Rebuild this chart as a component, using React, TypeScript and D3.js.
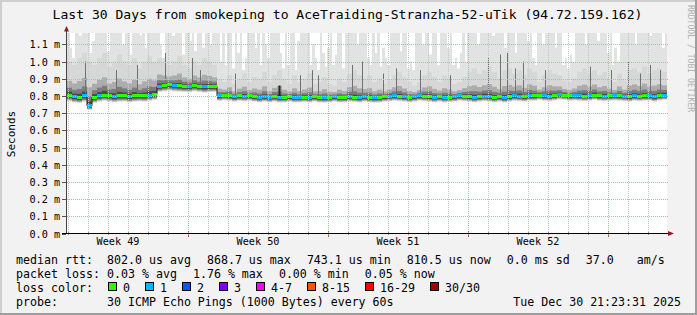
import React from "react";
import * as d3 from "d3";

// ---------- data ----------
const TITLE = "Last 30 Days from smokeping to AceTraiding-Stranzha-52-uTik (94.72.159.162)";
const START = Date.UTC(2025, 10, 30, 22, 48);
const END = Date.UTC(2025, 11, 30, 22, 48);
const BIN_HOURS = 6;
const PEAK_HOURS = 3;
const Y_TICKS = [0, 0.1, 0.2, 0.3, 0.4, 0.5, 0.6, 0.7, 0.8, 0.9, 1.0, 1.1];

// median rtt per 6h bin (ms)
const MEDIAN = [
  0.805, 0.795, 0.790, 0.800, 0.742, 0.792, 0.800, 0.805, 0.800, 0.795,
  0.800, 0.800, 0.795, 0.800, 0.800, 0.800, 0.805, 0.810, 0.855, 0.860,
  0.865, 0.860, 0.858, 0.855, 0.855, 0.860, 0.855, 0.852, 0.855, 0.855,
  0.800, 0.805, 0.800, 0.795, 0.800, 0.798, 0.800, 0.795, 0.790, 0.795,
  0.790, 0.795, 0.790, 0.790, 0.795, 0.790, 0.790, 0.792, 0.790, 0.795,
  0.790, 0.788, 0.790, 0.795, 0.790, 0.790, 0.795, 0.792, 0.790, 0.795,
  0.790, 0.788, 0.790, 0.795, 0.798, 0.800, 0.798, 0.795, 0.790, 0.795,
  0.800, 0.798, 0.795, 0.790, 0.795, 0.790, 0.792, 0.795, 0.800, 0.798,
  0.795, 0.790, 0.795, 0.798, 0.795, 0.790, 0.795, 0.790, 0.795, 0.800,
  0.798, 0.795, 0.800, 0.800, 0.805, 0.800, 0.798, 0.802, 0.808, 0.805,
  0.800, 0.802, 0.800, 0.798, 0.800, 0.805, 0.800, 0.798, 0.800, 0.802,
  0.800, 0.798, 0.795, 0.800, 0.798, 0.800, 0.800, 0.795, 0.802, 0.805,
];
// fastest ping per bin (ms)
const LOW = [
  0.772, 0.765, 0.762, 0.770, 0.722, 0.762, 0.770, 0.775, 0.770, 0.766,
  0.770, 0.771, 0.766, 0.770, 0.772, 0.770, 0.775, 0.780, 0.826, 0.830,
  0.834, 0.830, 0.828, 0.826, 0.825, 0.830, 0.826, 0.822, 0.825, 0.826,
  0.774, 0.778, 0.775, 0.770, 0.774, 0.772, 0.775, 0.770, 0.766, 0.770,
  0.766, 0.770, 0.765, 0.766, 0.770, 0.765, 0.766, 0.768, 0.765, 0.770,
  0.765, 0.764, 0.766, 0.770, 0.765, 0.766, 0.770, 0.768, 0.765, 0.770,
  0.766, 0.764, 0.765, 0.770, 0.772, 0.775, 0.773, 0.770, 0.766, 0.770,
  0.775, 0.773, 0.770, 0.766, 0.770, 0.765, 0.768, 0.770, 0.775, 0.773,
  0.770, 0.766, 0.770, 0.773, 0.770, 0.766, 0.770, 0.765, 0.770, 0.775,
  0.773, 0.770, 0.775, 0.775, 0.780, 0.775, 0.773, 0.777, 0.782, 0.780,
  0.775, 0.777, 0.775, 0.773, 0.775, 0.780, 0.775, 0.773, 0.775, 0.777,
  0.775, 0.773, 0.770, 0.775, 0.773, 0.775, 0.775, 0.770, 0.777, 0.780,
];
// upper edge of the dense smoke per bin (ms)
const UPPER = [
  1.00, 0.98, 1.02, 1.05, 1.00, 0.98, 1.02, 1.05, 0.97, 1.00,
  1.04, 1.00, 0.98, 1.02, 0.96, 1.00, 1.03, 1.00, 1.02, 1.00,
  0.98, 1.00, 1.03, 0.98, 0.96, 1.00, 0.98, 1.02, 1.00, 0.98,
  0.90, 0.88, 0.92, 0.87, 0.90, 0.93, 0.88, 0.91, 0.90, 0.94,
  0.88, 0.92, 0.95, 0.90, 0.87, 0.92, 0.88, 0.90, 0.93, 0.87,
  0.88, 0.91, 0.87, 0.86, 0.90, 0.88, 0.93, 0.95, 0.92, 0.90,
  0.92, 0.88, 0.90, 0.87, 0.89, 0.92, 0.94, 0.91, 0.88, 0.86,
  0.88, 0.92, 0.94, 0.91, 0.88, 0.92, 0.90, 0.87, 0.88, 0.91,
  0.94, 0.96, 0.93, 0.95, 0.97, 0.94, 0.90, 0.95, 0.96, 0.93,
  0.95, 0.92, 0.96, 0.94, 0.88, 0.92, 0.95, 0.93, 0.92, 0.89,
  0.88, 0.90, 0.94, 0.96, 0.93, 0.95, 0.92, 0.94, 0.90, 0.88,
  0.93, 0.89, 0.95, 0.96, 0.94, 0.97, 0.93, 0.95, 0.96, 0.94,
];
// slowest ping per 3h slot (ms), values above the canvas are clipped
const PEAK = [
  1.25, 1.08, 1.02, 1.25, 1.25, 1.15, 1.25, 1.25,
  1.25, 1.05, 1.12, 1.25, 1.25, 1.25, 1.20, 1.25,
  1.06, 1.25, 1.25, 1.18, 1.25, 1.25, 1.10, 1.25,
  1.25, 1.04, 1.25, 1.25, 1.25, 1.15, 1.25, 1.08,
  1.25, 1.25, 1.25, 1.25, 1.25, 1.10, 1.02, 1.25,
  1.25, 1.25, 1.15, 1.25, 1.25, 1.25, 1.04, 1.25,
  1.25, 1.12, 1.25, 1.06, 1.20, 1.25, 1.08, 1.25,
  1.25, 1.10, 1.25, 1.25, 1.25, 1.00, 1.25, 0.98,
  1.25, 1.25, 0.96, 1.25, 1.05, 1.25, 0.95, 1.02,
  1.25, 1.25, 1.25, 1.08, 1.25, 0.98, 1.25, 1.10,
  1.02, 1.25, 1.25, 1.25, 1.25, 1.05, 0.96, 1.25,
  0.98, 1.25, 1.25, 0.95, 1.12, 1.25, 1.25, 1.25,
  1.25, 0.98, 1.10, 1.02, 0.95, 1.25, 1.05, 0.97,
  1.08, 1.25, 0.98, 1.04, 1.25, 1.25, 0.96, 1.25,
  1.25, 1.25, 1.25, 1.25, 1.10, 1.25, 1.25, 1.25,
  1.02, 0.98, 1.25, 1.05, 1.25, 0.97, 1.08, 1.02,
  0.98, 1.25, 1.25, 1.25, 1.25, 1.06, 1.25, 1.25,
  0.96, 1.00, 0.95, 1.25, 1.25, 1.25, 1.10, 1.25,
  1.25, 1.04, 1.25, 1.25, 0.98, 1.25, 1.25, 1.25,
  1.08, 1.25, 0.98, 1.02, 0.96, 1.05, 1.25, 1.00,
  1.25, 1.25, 1.25, 1.25, 1.10, 1.25, 1.25, 1.25,
  1.25, 1.25, 1.15, 1.25, 1.25, 1.25, 1.25, 1.08,
  1.25, 1.25, 1.25, 1.05, 1.25, 1.25, 1.25, 1.25,
  1.12, 1.25, 1.02, 0.98, 1.25, 1.25, 1.10, 1.25,
  1.25, 1.25, 1.25, 1.08, 1.25, 1.25, 0.98, 1.02,
  0.96, 1.04, 1.00, 1.25, 1.25, 1.25, 1.25, 1.10,
  1.25, 1.25, 1.25, 1.25, 1.12, 1.25, 1.25, 1.25,
  1.05, 1.25, 0.98, 1.08, 1.00, 1.25, 1.25, 1.25,
  1.25, 1.25, 1.25, 1.10, 1.25, 1.25, 1.25, 1.25,
  1.25, 1.15, 1.25, 1.25, 1.25, 1.25, 1.08, 1.25,
];
// loss class per bin (index into LOSS_COLORS)
const LOSS = [
  0, 1, 0, 1, 1, 0, 1, 0, 0, 1,
  0, 0, 1, 0, 0, 0, 1, 0, 1, 0,
  0, 1, 0, 0, 1, 0, 0, 1, 0, 0,
  1, 0, 0, 1, 0, 1, 0, 0, 1, 1,
  1, 0, 1, 0, 0, 1, 1, 0, 1, 0,
  0, 1, 0, 1, 0, 0, 1, 0, 1, 1,
  0, 1, 0, 0, 1, 1, 0, 1, 0, 1,
  1, 0, 0, 1, 0, 1, 0, 1, 1, 0,
  0, 1, 0, 1, 1, 0, 0, 1, 0, 1,
  1, 0, 1, 0, 0, 1, 1, 0, 1, 0,
  0, 1, 1, 0, 1, 0, 0, 1, 0, 1,
  0, 1, 0, 1, 0, 0, 1, 1, 0, 1,
];
// isolated slow spikes: days after START, top value (ms)
const SPIKE_DAY = [0.9, 2.45, 3.5, 4.9, 6.25, 6.65, 8.4, 10.6, 11.65, 12.25, 12.55, 14.25, 14.75, 15.8, 16.45, 17.65, 19.15, 21.05, 21.65, 22.0, 22.4, 22.8, 23.9, 26.15, 27.2, 28.05, 28.65, 29.15, 29.65];
const SPIKE_TOP = [1.0, 0.95, 0.98, 1.05, 1.02, 0.95, 0.93, 0.86, 0.92, 0.95, 0.92, 0.98, 1.0, 0.93, 0.96, 0.95, 0.92, 1.02, 1.04, 1.05, 0.96, 1.0, 0.95, 0.97, 0.95, 1.0, 0.93, 0.98, 0.95];

const LOSS_LABELS = ["0", "1", "2", "3", "4-7", "8-15", "16-29", "30/30"];
const LOSS_COLORS = ["#26ff00", "#00b8ff", "#0059ff", "#7e00ff", "#ff00ff", "#ff5500", "#ff0000", "#a10000"];

const RTT_ITEMS = ["median rtt:", "802.0 us avg", "868.7 us max", "743.1 us min", "810.5 us now", "0.0 ms sd", "37.0 ", "am/s"];
const LOSS_ITEMS = ["packet loss:", "0.03 % avg", "1.76 % max", "0.00 % min", "0.05 % now"];
const PROBE_TEXT = "30 ICMP Echo Pings (1000 Bytes) every 60s";
const DATE_TEXT = "Tue Dec 30 21:23:31 2025";

// ---------- drawing ----------
const FONT = "'DejaVu Sans Mono', monospace";
const CW = 6.995; // legend char width
const GAP = 16;

function legendRow(items: string[]) {
  const xs: number[] = [];
  let cx = 16;
  items.forEach((it, i) => {
    if (i === 0) { xs.push(16); cx = 107; return; }
    xs.push(cx);
    cx += it.length * CW + GAP;
  });
  return xs;
}

export default function App() {
  const W = 697, H = 315;
  const x = d3.scaleUtc().domain([new Date(START), new Date(END)]).range([67, 667]);
  const y = d3.scaleLinear().domain([0, 1.1628]).range([233.5, 33.5]);
  const binT = (i: number) => new Date(START + i * BIN_HOURS * 3600e3);
  const peakT = (i: number) => new Date(START + i * PEAK_HOURS * 3600e3);
  const days = d3.utcDay.range(new Date(START), new Date(END));
  const weeks = d3.utcSunday.range(new Date(START), new Date(END));
  const weekLabels = d3.utcWednesday
    .range(new Date(START - 7 * 864e5), new Date(END))
    .map((d) => d3.utcHour.offset(d, 12))
    .filter((d) => +d > START && +d < END);
  const fmtWeek = d3.utcFormat("%V");
  const px = (d: Date) => Math.round(x(d)) + 0.5;
  const py = (v: number) => Math.round(y(v)) + 0.5;

  const bins = MEDIAN.map((m, i) => {
    const x0 = Math.round(x(binT(i)));
    const x1 = Math.round(x(binT(i + 1)));
    return { x0, x1, m, lo: LOW[i], up: UPPER[i], loss: LOSS[i] };
  });

  const layers = [
    { c: "#d7d7d7", lo: (b: any) => b.lo, hi: (b: any) => b.up },
    { c: "#acacac", lo: (b: any) => b.m - 0.92 * (b.m - b.lo), hi: (b: any) => b.m + 0.42 * (b.up - b.m) },
    { c: "#7c7c7c", lo: (b: any) => b.m - 0.72 * (b.m - b.lo), hi: (b: any) => b.m + 0.22 * (b.up - b.m) },
    { c: "#4a4a4a", lo: (b: any) => b.m - 0.48 * (b.m - b.lo), hi: (b: any) => b.m + 0.1 * (b.up - b.m) },
  ];

  let stepPath = "";
  bins.forEach((b, i) => {
    const yy = y(b.m);
    stepPath += i === 0 ? `M${b.x0},${yy}` : `V${yy}`;
    stepPath += `H${b.x1}`;
  });

  const rttX = legendRow(RTT_ITEMS);
  const lossX = legendRow(LOSS_ITEMS);
  const boxX: number[] = [];
  {
    let cx = 108;
    LOSS_LABELS.forEach((l) => { boxX.push(cx); cx += 30 + 7 * l.length; });
  }

  return (
    <svg width={W} height={H} style={{ position: "fixed", left: 0, top: 0 }} fontFamily={FONT}>
      <rect x={0} y={0} width={W} height={H} fill="#f2f2f2" />
      <rect x={0} y={0} width={W} height={2} fill="#cfcfcf" />
      <rect x={0} y={0} width={2} height={H} fill="#cfcfcf" />
      <rect x={W - 2} y={0} width={2} height={H} fill="#9e9e9e" />
      <rect x={0} y={H - 2} width={W} height={2} fill="#9e9e9e" />

      <text x={347.5} y={18.5} fontSize={13.07} textAnchor="middle" fill="#000">{TITLE}</text>
      <text transform="translate(688,5) rotate(90)" fontSize={8.1} fill="#b0b0b0">RRDTOOL / TOBI OETIKER</text>
      <text transform="translate(15,134) rotate(-90)" fontSize={11} textAnchor="middle" fill="#000">Seconds</text>

      <defs>
        <clipPath id="cv"><rect x={67} y={33} width={600} height={200.5} /></clipPath>
      </defs>
      <rect x={67} y={33} width={600} height={200.5} fill="#ffffff" />

      <g clipPath="url(#cv)">
        <g fill="#e2e2e2">
          {PEAK.map((p, i) => {
            const x0 = Math.round(x(peakT(i)));
            const x1 = Math.round(x(peakT(i + 1)));
            const b = bins[Math.floor((i * PEAK_HOURS) / BIN_HOURS)];
            const t = y(p), bt = y(b.lo - 0.004);
            return <rect key={i} x={x0} y={t} width={x1 - x0} height={Math.max(0, bt - t)} />;
          })}
        </g>
        {layers.map((L, li) => (
          <g key={li} fill={L.c}>
            {bins.map((b, i) => {
              const t = y(L.hi(b)), bt = y(L.lo(b));
              return <rect key={i} x={b.x0} y={t} width={b.x1 - b.x0} height={Math.max(0, bt - t)} />;
            })}
          </g>
        ))}
        {SPIKE_DAY.map((d, i) => {
          const t = new Date(START + d * 864e5);
          const bi = Math.min(MEDIAN.length - 1, Math.floor((d * 24) / BIN_HOURS));
          const dark = SPIKE_TOP[i] < 0.9;
          return <line key={i} x1={px(t)} x2={px(t)} y1={y(MEDIAN[bi])} y2={y(SPIKE_TOP[i])} stroke={dark ? "#222" : "#707070"} strokeWidth={dark ? 2 : 1} />;
        })}
        <path d={stepPath} fill="none" stroke="#1a1a1a" strokeWidth={1} />
        {bins.map((b, i) => (
          <rect key={i} x={b.x0} y={Math.round(y(b.m) - 1.5)} width={b.x1 - b.x0} height={3} fill={LOSS_COLORS[b.loss]} />
        ))}
      </g>

      {/* grid */}
      <g strokeDasharray="1,1" strokeWidth={1} fill="none">
        {days.filter((d) => d.getUTCDay() !== 0).map((d, i) => (
          <line key={"m" + i} x1={px(d)} x2={px(d)} y1={33} y2={233} stroke="#c6c6c6" />
        ))}
        {weeks.map((d, i) => (
          <line key={"w" + i} x1={px(d)} x2={px(d)} y1={33} y2={233} stroke="#ef9d9d" />
        ))}
        {Y_TICKS.filter((v) => v > 0).map((v, i) => (
          <line key={"h" + i} x1={67} x2={668} y1={py(v)} y2={py(v)} stroke="#ef9d9d" />
        ))}
      </g>

      {/* axes */}
      <g stroke="#555" strokeWidth={1}>
        {Y_TICKS.map((v, i) => (
          <line key={i} x1={62} x2={66} y1={py(v)} y2={py(v)} />
        ))}
        {weeks.map((d, i) => (
          <line key={"wt" + i} x1={px(d)} x2={px(d)} y1={231} y2={237} stroke="#c05050" />
        ))}
        {days.map((d, i) => (
          <line key={"dt" + i} x1={px(d)} x2={px(d)} y1={232} y2={235} stroke="#999" />
        ))}
      </g>
      <line x1={66.5} x2={66.5} y1={30} y2={234} stroke="#444" />
      <line x1={62} x2={670} y1={233.5} y2={233.5} stroke="#000" />
      <path d="M64,31.5 L66.5,26 L69,31.5 Z" fill="#8e1a1a" />
      <path d="M668,231 L674,233.5 L668,236 Z" fill="#8e1a1a" />

      <g fontSize={10.16} fill="#000">
        {Y_TICKS.map((v, i) => (
          <text key={i} x={60} y={Math.round(y(v)) + 4} textAnchor="end">{v.toFixed(1) + " m"}</text>
        ))}
        {weekLabels.map((d, i) => (
          <text key={"wl" + i} x={x(d)} y={244.5} textAnchor="middle">{"Week " + fmtWeek(d)}</text>
        ))}
      </g>

      <g fontSize={11.62} fill="#000" style={{ whiteSpace: "pre" }}>
        {RTT_ITEMS.map((t, i) => (
          <text key={"r" + i} x={rttX[i]} y={263.5} xmlSpace="preserve">{t}</text>
        ))}
        {LOSS_ITEMS.map((t, i) => (
          <text key={"l" + i} x={lossX[i]} y={277.5} xmlSpace="preserve">{t}</text>
        ))}
        <text x={16} y={291.5}>loss color:</text>
        {LOSS_LABELS.map((l, i) => (
          <g key={"b" + i}>
            <rect x={boxX[i] + 0.5} y={282.5} width={8} height={8} fill={LOSS_COLORS[i]} stroke="#000" strokeWidth={1} />
            <text x={boxX[i] + 15} y={291.5}>{l}</text>
          </g>
        ))}
        <text x={16} y={305.5}>probe:</text>
        <text x={107} y={305.5}>{PROBE_TEXT}</text>
        <text x={681} y={305.5} textAnchor="end">{DATE_TEXT}</text>
      </g>
    </svg>
  );
}
